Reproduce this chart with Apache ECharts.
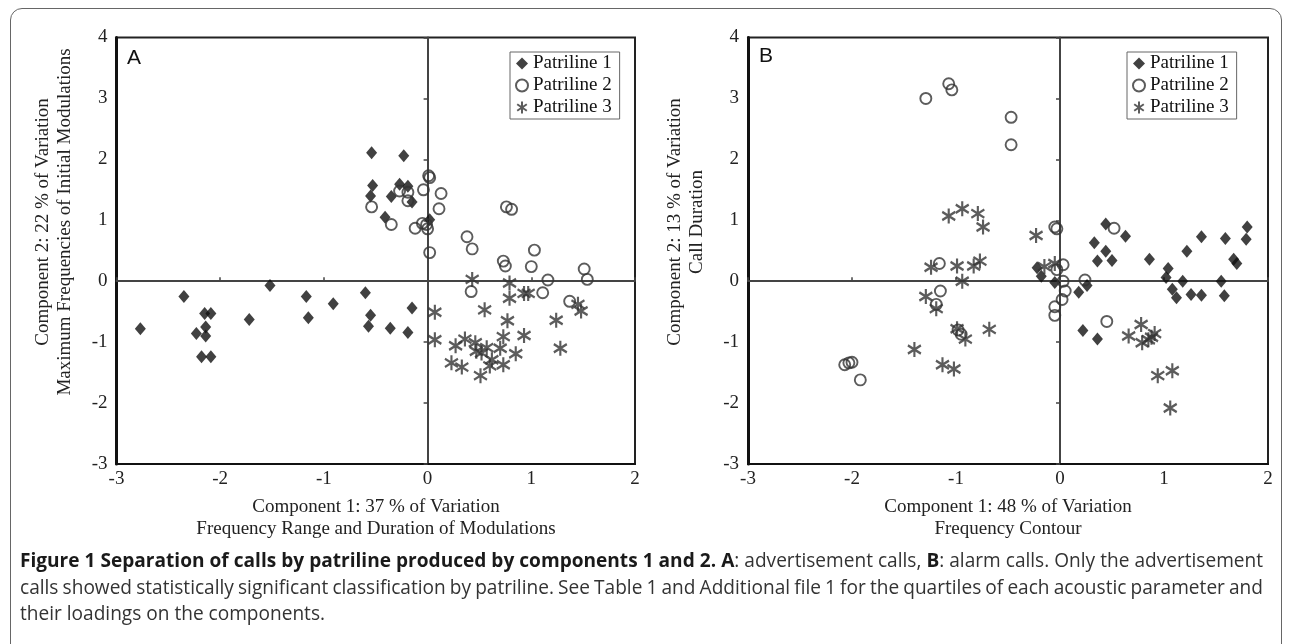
<!DOCTYPE html>
<html>
<head>
<meta charset="utf-8">
<script src="https://cdn.jsdelivr.net/npm/echarts@6/dist/echarts.min.js"></script>
<style>
	html, body { margin: 0; padding: 0; background: #fff; }
	#wrap { position: relative; width: 1290px; height: 644px; overflow: hidden; }
	#frame { position: absolute; left: 10px; top: 8px; width: 1272px; height: 640px; box-sizing: border-box;
		border: 1.5px solid #666; border-radius: 12px 12px 0 0; }
	#chart { position: absolute; left: 0; top: 0; width: 1290px; height: 644px; }
	.cap { position: absolute; left: 20px; font-family: 'Open Sans'; font-size: 17px; color: #333; white-space: nowrap; line-height: 26px; }
	.cap b { color: #1a1a1a; }
</style>
</head>
<body>
<div id="wrap">
	<div id="frame"></div>
	<div id="chart"></div>
	<div class="cap" id="c1" style="top:547px"><b>Figure 1 Separation of calls by patriline produced by components 1 and 2.</b> <b>A</b>: advertisement calls, <b>B</b>: alarm calls. Only the advertisement</div>
	<div class="cap" id="c2" style="top:574px">calls showed statistically significant classification by patriline. See Table 1 and Additional file 1 for the quartiles of each acoustic parameter and</div>
	<div class="cap" id="c3" style="top:600px">their loadings on the components.</div>
</div>
<script>
	// panel A: advertisement calls  [component 1, component 2]
	var advP1 = [[-0.54, 2.11], [-0.23, 2.06], [-0.53, 1.57], [-0.55, 1.40], [-0.27, 1.59], [-0.19, 1.56],
		[-0.35, 1.39], [-0.15, 1.30], [-0.41, 1.05], [0.02, 1.01], [-2.35, -0.25], [-1.52, -0.07],
		[-2.77, -0.78], [-2.15, -0.53], [-2.09, -0.53], [-2.14, -0.75], [-2.23, -0.86], [-2.14, -0.90],
		[-1.72, -0.63], [-1.17, -0.25], [-1.15, -0.60], [-0.91, -0.37], [-0.60, -0.19], [-0.55, -0.56],
		[-0.57, -0.74], [-0.36, -0.77], [-0.15, -0.44], [-0.19, -0.84], [-2.18, -1.24], [-2.09, -1.24]];
	var advP2 = [[-0.54, 1.22], [-0.35, 0.93], [-0.27, 1.48], [-0.19, 1.46], [-0.19, 1.32], [-0.12, 0.87],
		[-0.05, 0.95], [-0.01, 0.93], [0.00, 0.86], [-0.04, 1.50], [0.01, 1.73], [0.02, 1.70], [0.13, 1.44],
		[0.11, 1.19], [0.02, 0.47], [0.38, 0.73], [0.43, 0.53], [0.76, 1.22], [0.81, 1.18], [1.03, 0.51],
		[0.73, 0.33], [0.75, 0.25], [1.00, 0.24], [1.16, 0.02], [1.51, 0.20], [1.54, 0.03], [0.42, -0.17],
		[1.11, -0.19], [1.37, -0.33]];
	var advP3 = [[0.43, 0.03], [0.79, -0.03], [0.79, -0.28], [0.93, -0.20], [0.97, -0.20], [1.45, -0.38],
		[1.48, -0.49], [0.07, -0.51], [0.55, -0.47], [0.77, -0.65], [1.24, -0.64], [0.07, -0.96],
		[0.27, -1.06], [0.36, -0.95], [0.46, -1.01], [0.47, -1.15], [0.52, -1.18], [0.57, -1.09],
		[0.62, -1.29], [0.60, -1.39], [0.70, -1.10], [0.73, -0.91], [0.73, -1.37], [0.85, -1.19],
		[0.93, -0.89], [1.28, -1.10], [0.23, -1.34], [0.33, -1.41], [0.51, -1.55]];

	// panel B: alarm calls
	var alarmP1 = [[0.44, 0.94], [0.63, 0.74], [0.33, 0.63], [0.44, 0.49], [0.36, 0.33], [0.50, 0.34],
		[-0.22, 0.22], [-0.18, 0.08], [-0.05, -0.02], [0.26, -0.07], [0.18, -0.18], [0.86, 0.36],
		[1.04, 0.21], [1.02, 0.06], [1.08, -0.13], [1.12, -0.27], [1.18, 0.00], [1.26, -0.22],
		[1.36, -0.23], [1.22, 0.49], [1.36, 0.73], [1.55, 0.00], [1.58, -0.24], [1.59, 0.70],
		[1.67, 0.36], [1.70, 0.29], [1.80, 0.89], [1.79, 0.69], [0.22, -0.81], [0.36, -0.95]];
	var alarmP2 = [[-1.29, 3.00], [-1.07, 3.24], [-1.04, 3.14], [-0.47, 2.69], [-0.47, 2.24], [-1.16, 0.29],
		[-1.15, -0.16], [-1.19, -0.38], [-0.98, -0.80], [-0.95, -0.87], [-0.05, 0.89], [-0.03, 0.86],
		[0.52, 0.87], [0.03, 0.27], [-0.03, 0.19], [0.03, 0.00], [0.05, -0.16], [0.02, -0.30],
		[-0.05, -0.42], [-0.05, -0.56], [0.24, 0.02], [0.45, -0.66], [-2.07, -1.37], [-2.03, -1.34],
		[-2.00, -1.33], [-1.92, -1.62]];
	var alarmP3 = [[-1.07, 1.07], [-0.94, 1.19], [-0.79, 1.11], [-0.74, 0.89], [-0.23, 0.75], [-1.24, 0.23],
		[-0.99, 0.25], [-0.83, 0.25], [-0.77, 0.33], [-0.94, 0.00], [-1.29, -0.25], [-1.19, -0.45],
		[-0.99, -0.78], [-0.91, -0.95], [-0.68, -0.79], [-1.40, -1.12], [-1.13, -1.37], [-1.02, -1.44],
		[-0.15, 0.24], [-0.05, 0.29], [0.78, -0.71], [0.66, -0.90], [0.79, -1.01], [0.85, -0.96],
		[0.91, -0.86], [0.88, -0.92], [0.94, -1.55], [1.08, -1.47], [1.06, -2.08]];

	var names = ['Patriline 1', 'Patriline 2', 'Patriline 3'];
	var xRange = [-3, 2];
	var yRange = [-3, 4];

	var serif = 'Liberation Serif';
	var ink = '#222';
	var star = 'path://M8,0L8,20M0,4.5L16,15.5M0,15.5L16,4.5';

	function mainX(g) {
		return {
			type: 'value', gridIndex: g, min: xRange[0], max: xRange[1], interval: 1,
			axisLine: { show: true, onZero: false, lineStyle: { color: '#111', width: 2 } },
			axisTick: { show: false }, splitLine: { show: false },
			axisLabel: { color: ink, fontFamily: serif, fontSize: 19, margin: 6 }
		};
	}
	function zeroX(g) {
		return {
			type: 'value', gridIndex: g, min: xRange[0], max: xRange[1], interval: 1, position: 'bottom',
			axisLine: { show: true, onZero: true, lineStyle: { color: '#444', width: 2 } },
			axisTick: { show: true, inside: true, length: 4, lineStyle: { color: '#444', width: 1.5 } },
			axisLabel: { show: false }, splitLine: { show: false }
		};
	}
	function mainY(g) {
		return {
			type: 'value', gridIndex: g, min: yRange[0], max: yRange[1], interval: 1,
			axisLine: { show: true, onZero: false, lineStyle: { color: '#111', width: 3 } },
			axisTick: { show: false }, splitLine: { show: false },
			axisLabel: { color: ink, fontFamily: serif, fontSize: 19, margin: 9 }
		};
	}
	function zeroY(g) {
		return {
			type: 'value', gridIndex: g, min: yRange[0], max: yRange[1], interval: 1, position: 'left',
			axisLine: { show: true, onZero: true, lineStyle: { color: '#444', width: 2 } },
			axisTick: { show: true, inside: false, length: 4, lineStyle: { color: '#444', width: 1.5 } },
			axisLabel: { show: false }, splitLine: { show: false }
		};
	}

	function sc(name, data, ax, kind) {
		var s = { name: name, type: 'scatter', xAxisIndex: ax, yAxisIndex: ax, data: data, z: 3 };
		if (kind == 1) {
			s.symbol = 'diamond';
			s.symbolSize = [11, 13];
			s.itemStyle = { color: '#111' };
		} else if (kind == 2) {
			s.symbol = 'circle';
			s.symbolSize = 11;
			s.itemStyle = { color: 'rgba(255,255,255,0)', borderColor: '#333', borderWidth: 1.9 };
		} else {
			s.symbol = star;
			s.symbolSize = [13, 15];
			s.itemStyle = { color: '#333', borderColor: '#333', borderWidth: 2.3 };
		}
		return s;
	}

	function legendAt(left) {
		return {
			left: left, top: 52, orient: 'vertical', data: names, selectedMode: false,
			itemGap: 3, itemWidth: 12, itemHeight: 12, padding: [2, 8, 2, 5],
			borderColor: '#666', borderWidth: 1, backgroundColor: '#fff',
			textStyle: { fontFamily: serif, fontSize: 19, color: '#111' }
		};
	}

	function txt(x, y, text, rot, size) {
		return {
			type: 'text', x: x, y: y, rotation: rot || 0,
			style: {
				text: text, font: (size || 19) + 'px "Liberation Serif"', fill: ink,
				textAlign: 'center', textVerticalAlign: 'middle', align: 'center', verticalAlign: 'middle',
				lineHeight: 22
			}
		};
	}

	var option = {
		animation: false,
		grid: [
			{ left: 116.5, top: 37.5, width: 518.5, height: 426.5, show: true, borderColor: '#222', borderWidth: 2 },
			{ left: 748, top: 37.5, width: 520, height: 426.5, show: true, borderColor: '#222', borderWidth: 2 }
		],
		// 0,1 -> panel A   2,3 -> panel B
		xAxis: [mainX(0), zeroX(0), mainX(1), zeroX(1)],
		yAxis: [mainY(0), zeroY(0), mainY(1), zeroY(1)],
		legend: [legendAt(510), legendAt(1127)],
		series: [
			sc(names[0], advP1, 0, 1), sc(names[1], advP2, 0, 2), sc(names[2], advP3, 0, 3),
			sc(names[0], alarmP1, 2, 1), sc(names[1], alarmP2, 2, 2), sc(names[2], alarmP3, 2, 3)
		],
		graphic: [
			{ type: 'text', x: 127, y: 48, style: { text: 'A', font: '21px "Liberation Sans"', fill: '#111' } },
			{ type: 'text', x: 759, y: 46, style: { text: 'B', font: '21px "Liberation Sans"', fill: '#111' } },
			txt(54, 222, 'Component 2: 22 % of Variation\nMaximum Frequencies of Initial Modulations', Math.PI / 2),
			txt(686, 222, 'Component 2: 13 % of Variation\nCall Duration', Math.PI / 2),
			txt(376, 518, 'Component 1: 37 % of Variation\nFrequency Range and Duration of Modulations'),
			txt(1008, 518, 'Component 1: 48 % of Variation\nFrequency Contour')
		]
	};

	var myChart = echarts.init(document.getElementById('chart'));
	myChart.setOption(option);

	// caption: size the font so the first line fills the width, then justify line two
	var full = 1243;
	var c1 = document.getElementById('c1');
	var fs = 17 * full / c1.getBoundingClientRect().width;
	['c1', 'c2', 'c3'].forEach(function (id) {
		document.getElementById(id).style.fontSize = fs + 'px';
	});
	['c1', 'c2'].forEach(function (id) {
		var el = document.getElementById(id);
		var spaces = (el.textContent.match(/ /g) || []).length;
		var extra = (full - el.getBoundingClientRect().width) / spaces;
		el.style.wordSpacing = extra + 'px';
	});
</script>
</body>
</html>
